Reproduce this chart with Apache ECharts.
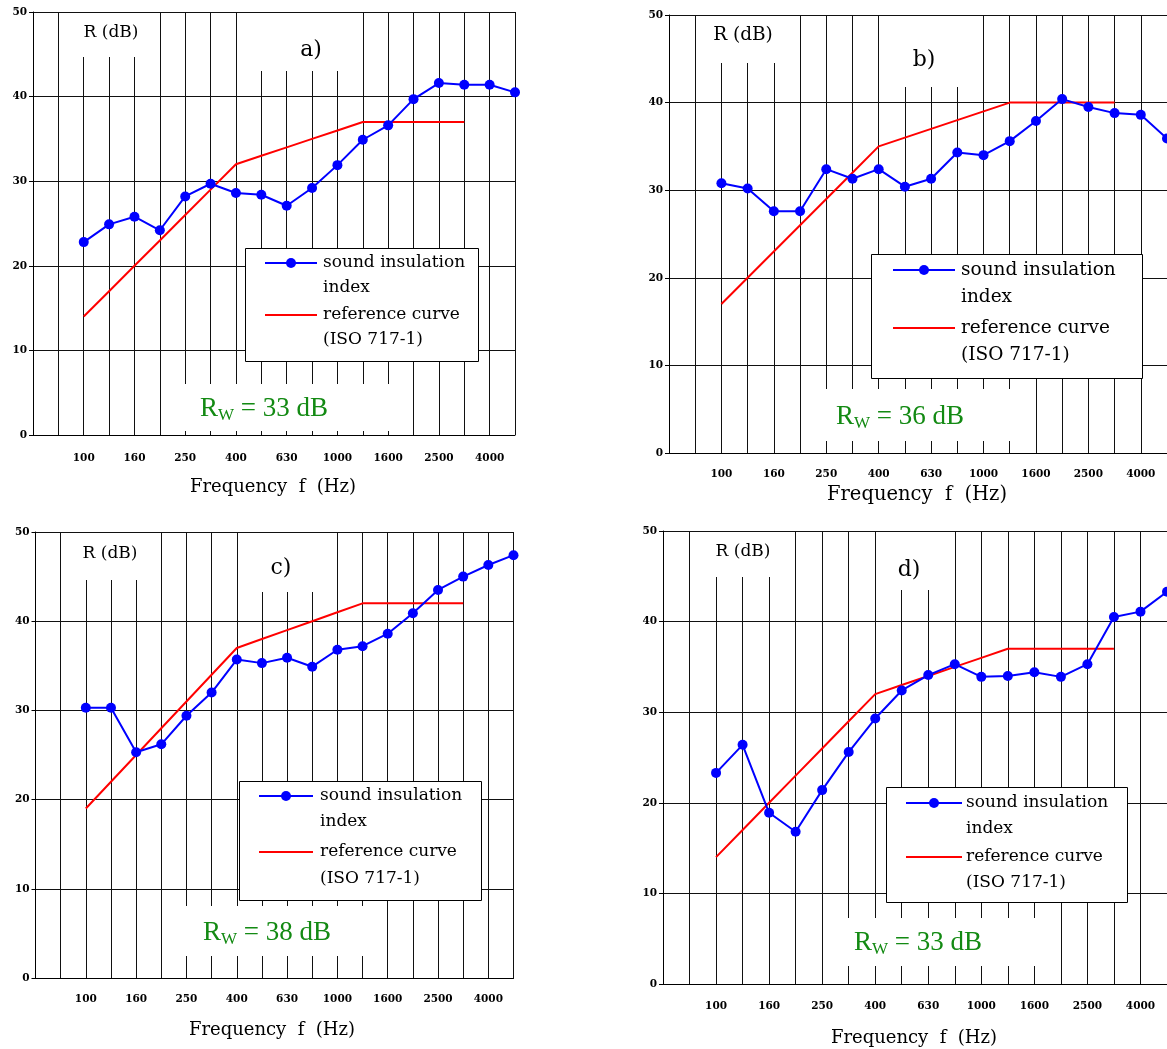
<!DOCTYPE html>
<html>
<head>
<meta charset="utf-8">
<script src="https://cdn.jsdelivr.net/npm/echarts@6/dist/echarts.min.js"></script>
<style>
  html, body { margin: 0; padding: 0; background: #fff; }
  #chart { width: 1167px; height: 1049px; }
</style>
</head>
<body>
<div id="chart"></div>
<script>
// One-third-octave bands; the two leading blank slots give the empty columns left of 100 Hz.
const bands = ['', '', '100', '125', '160', '200', '250', '315', '400', '500', '630', '800',
  '1000', '1250', '1600', '2000', '2500', '3150', '4000', '5000'];

// Measured sound insulation index R (dB), 100 Hz ... 5000 Hz
const indexA = [22.8, 24.9, 25.8, 24.2, 28.2, 29.7, 28.6, 28.4, 27.1, 29.2, 31.9, 34.9, 36.6, 39.7, 41.6, 41.4, 41.4, 40.5];
const indexB = [30.8, 30.2, 27.6, 27.6, 32.4, 31.3, 32.4, 30.4, 31.3, 34.3, 34.0, 35.6, 37.9, 40.4, 39.5, 38.8, 38.6, 35.9];
const indexC = [30.3, 30.3, 25.3, 26.2, 29.4, 32.0, 35.7, 35.3, 35.9, 34.9, 36.8, 37.2, 38.6, 40.9, 43.5, 45.0, 46.3, 47.4];
const indexD = [23.3, 26.4, 18.9, 16.8, 21.4, 25.6, 29.3, 32.4, 34.1, 35.3, 33.9, 34.0, 34.4, 33.9, 35.3, 40.5, 41.1, 43.3];

// Shifted ISO 717-1 reference curves, 100 Hz ... 3150 Hz
const refA = [14, 17, 20, 23, 26, 29, 32, 33, 34, 35, 36, 37, 37, 37, 37, 37];
const refB = [17, 20, 23, 26, 29, 32, 35, 36, 37, 38, 39, 40, 40, 40, 40, 40];
const refC = [19, 22, 25, 28, 31, 34, 37, 38, 39, 40, 41, 42, 42, 42, 42, 42];
const refD = [14, 17, 20, 23, 26, 29, 32, 33, 34, 35, 36, 37, 37, 37, 37, 37];

const panelTags = ['a)', 'b)', 'c)', 'd)'];
const yTitle = 'R (dB)';
const xTitle = 'Frequency  f  (Hz)';
const legendIndex = ['sound insulation', 'index'];
const legendRef = ['reference curve', '(ISO 717-1)'];

// Weighted index R_W is the reference curve value at 500 Hz (8th band of the curve).
const rw = ref => ref[7];

// Page layout of the four panels (pixels)
const layout = [
  { grid: { left: 33, top: 12, width: 482, height: 423 }, labelMargin: 18, fs: 17,
    rBox: [62, 13, 93, 44], rText: [111, 33], tagBox: [240, 13, 120, 58], tagText: [311, 50],
    legend: { x: 245, y: 248, w: 233, h: 113, line: [265, 317], tx: 323, rows: [263, 288, 315, 340] },
    rwBox: [178, 384, 217, 47], rwText: [200, 409], title: [273, 487], titleFs: 18, titleBox: null },
  { grid: { left: 669, top: 15, width: 499, height: 438 }, labelMargin: 16, fs: 18.5,
    rBox: [700, 16, 95, 47], rText: [743, 35], tagBox: [881, 16, 101, 71], tagText: [924, 60],
    legend: { x: 871, y: 254, w: 271, h: 124, line: [893, 955], tx: 961, rows: [270, 297, 328, 355] },
    rwBox: [820, 389, 200, 52], rwText: [836, 417], title: [917, 495], titleFs: 19.5,
    titleBox: [812, 477, 212, 32] },
  { grid: { left: 35.5, top: 532, width: 478, height: 446 }, labelMargin: 16, fs: 17,
    rBox: [64, 533, 94, 47], rText: [110, 554], tagBox: [240, 533, 95, 59], tagText: [281, 568],
    legend: { x: 239, y: 781, w: 242, h: 119, line: [259, 313], tx: 320, rows: [796, 822, 852, 879] },
    rwBox: [178, 906, 205, 50], rwText: [203, 933], title: [272, 1030], titleFs: 18, titleBox: null },
  { grid: { left: 663, top: 531, width: 505, height: 453 }, labelMargin: 17, fs: 17,
    rBox: [692, 532, 101, 45], rText: [743, 552], tagBox: [880, 532, 72, 58], tagText: [909, 570],
    legend: { x: 886, y: 787, w: 241, h: 115, line: [906, 962], tx: 966, rows: [803, 829, 857, 883] },
    rwBox: [842, 918, 206, 48], rwText: [854, 943], title: [914, 1038], titleFs: 18, titleBox: null }
];

const indexSeries = [indexA, indexB, indexC, indexD];
const refSeries = [refA, refB, refC, refD];

const SERIF = 'DejaVu Serif';
const GRID_LINE = '#111';
const BLUE = '#0000ff';
const RED = '#ff0000';
const GREEN = '#138a13';

const grids = [], xAxes = [], yAxes = [], series = [], graphics = [];

layout.forEach((p, i) => {
  grids.push(Object.assign({ containLabel: false }, p.grid));

  xAxes.push({
    type: 'category', gridIndex: i, data: bands, boundaryGap: false,
    axisLine: { show: true, lineStyle: { color: '#000', width: 1 } },
    axisTick: { show: false },
    axisLabel: {
      interval: idx => idx >= 2 && idx <= 18 && idx % 2 === 0,
      margin: p.labelMargin, color: '#000', fontFamily: SERIF, fontSize: 10.5, fontWeight: 'bold'
    },
    splitLine: { show: true, interval: 0, lineStyle: { color: GRID_LINE, width: 1 } }
  });

  yAxes.push({
    type: 'value', gridIndex: i, min: 0, max: 50, interval: 10,
    axisLine: { show: true, lineStyle: { color: '#000', width: 1 } },
    axisTick: { show: true, length: 4, inside: false, lineStyle: { color: '#000' } },
    axisLabel: { margin: 6, color: '#000', fontFamily: SERIF, fontSize: 10.5, fontWeight: 'bold' },
    splitLine: { show: true, lineStyle: { color: GRID_LINE, width: 1 } }
  });

  series.push({
    name: 'reference curve', type: 'line', xAxisIndex: i, yAxisIndex: i,
    data: ['-', '-'].concat(refSeries[i]).concat(['-', '-']),
    showSymbol: false, symbol: 'none', z: 3,
    lineStyle: { color: RED, width: 2 }, animation: false
  });
  series.push({
    name: 'sound insulation index', type: 'line', xAxisIndex: i, yAxisIndex: i,
    data: ['-', '-'].concat(indexSeries[i]),
    symbol: 'circle', symbolSize: 10, z: 4,
    itemStyle: { color: BLUE }, lineStyle: { color: BLUE, width: 2 }, animation: false
  });

  // White text boxes that sit over the grid lines
  const whiteRect = (b, z) => ({
    type: 'rect', z: z, silent: true,
    shape: { x: b[0], y: b[1], width: b[2], height: b[3] },
    style: { fill: '#fff', stroke: null }
  });
  graphics.push(whiteRect(p.rBox, 1));
  graphics.push(whiteRect(p.tagBox, 1));
  graphics.push(whiteRect(p.rwBox, 1));
  if (p.titleBox) graphics.push(whiteRect(p.titleBox, 20));

  graphics.push({
    type: 'text', z: 21, silent: true, x: p.rText[0], y: p.rText[1],
    style: { text: yTitle, font: p.fs + 'px "' + SERIF + '"', fill: '#000', align: 'center', verticalAlign: 'middle' }
  });
  graphics.push({
    type: 'text', z: 21, silent: true, x: p.tagText[0], y: p.tagText[1],
    style: { text: panelTags[i], font: '22px "' + SERIF + '"', fill: '#000', align: 'center', verticalAlign: 'middle' }
  });
  graphics.push({
    type: 'text', z: 21, silent: true, x: p.title[0], y: p.title[1],
    style: { text: xTitle, font: p.titleFs + 'px "' + SERIF + '"', fill: '#000', align: 'center', verticalAlign: 'middle' }
  });

  // R_W annotation with subscript W
  graphics.push({
    type: 'text', z: 21, silent: true, x: p.rwText[0], y: p.rwText[1],
    style: {
      text: '{r|R}{w|W}{r| = ' + rw(refSeries[i]) + ' dB}',
      align: 'left', verticalAlign: 'middle', fill: GREEN,
      rich: {
        r: { fontFamily: 'Liberation Serif', fontSize: 27, lineHeight: 30, fill: GREEN, verticalAlign: 'middle' },
        w: { fontFamily: 'Liberation Serif', fontSize: 17, lineHeight: 15, fill: GREEN, verticalAlign: 'bottom' }
      }
    }
  });

  // Legend box
  const L = p.legend;
  graphics.push({
    type: 'rect', z: 30, silent: true,
    shape: { x: L.x + 0.5, y: L.y + 0.5, width: L.w, height: L.h },
    style: { fill: '#fff', stroke: '#000', lineWidth: 1 }
  });
  graphics.push({
    type: 'line', z: 31, silent: true,
    shape: { x1: L.line[0], y1: L.rows[0], x2: L.line[1], y2: L.rows[0] },
    style: { stroke: BLUE, lineWidth: 2 }
  });
  graphics.push({
    type: 'circle', z: 32, silent: true,
    shape: { cx: (L.line[0] + L.line[1]) / 2, cy: L.rows[0], r: 5 },
    style: { fill: BLUE }
  });
  graphics.push({
    type: 'line', z: 31, silent: true,
    shape: { x1: L.line[0], y1: L.rows[2], x2: L.line[1], y2: L.rows[2] },
    style: { stroke: RED, lineWidth: 2 }
  });
  const legendLines = legendIndex.concat(legendRef);
  legendLines.forEach((t, k) => {
    graphics.push({
      type: 'text', z: 32, silent: true, x: L.tx, y: L.rows[k],
      style: { text: t, font: p.fs + 'px "' + SERIF + '"', fill: '#000', align: 'left', verticalAlign: 'middle' }
    });
  });
});

const chart = echarts.init(document.getElementById('chart'), null, { renderer: 'canvas' });
chart.setOption({
  animation: false,
  backgroundColor: '#fff',
  grid: grids,
  xAxis: xAxes,
  yAxis: yAxes,
  series: series,
  graphic: { elements: graphics }
});
</script>
</body>
</html>
